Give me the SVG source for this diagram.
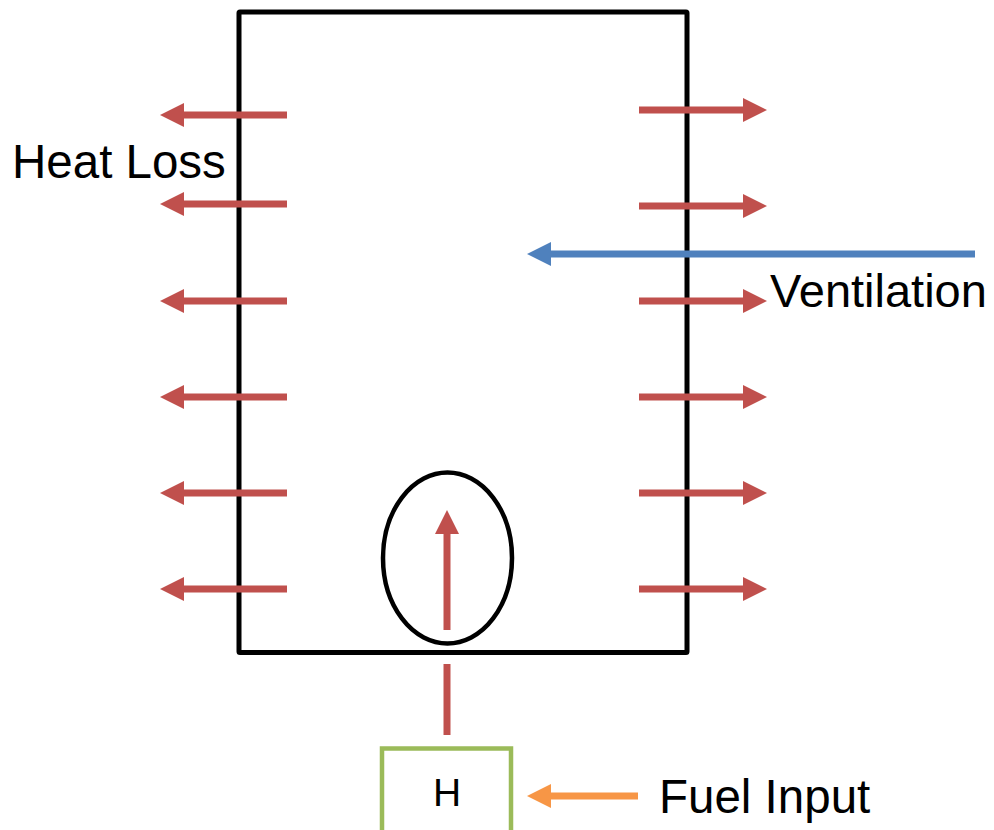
<svg xmlns="http://www.w3.org/2000/svg" width="994" height="830" viewBox="0 0 994 830">
<style>
.loss{stroke:#C0504D;stroke-width:7;fill:none}
.txt{font-family:"Liberation Sans",Arial,sans-serif;fill:#000}
</style>
<defs>
<marker id="hr" markerUnits="userSpaceOnUse" markerWidth="24" markerHeight="24" viewBox="0 0 24 24" refX="0" refY="12" orient="auto" overflow="visible"><path d="M0,0 L24,12 L0,24 Z" fill="#C0504D"/></marker>
<marker id="hb" markerUnits="userSpaceOnUse" markerWidth="24" markerHeight="24" viewBox="0 0 24 24" refX="0" refY="12" orient="auto" overflow="visible"><path d="M0,0 L24,12 L0,24 Z" fill="#4F81BD"/></marker>
<marker id="ho" markerUnits="userSpaceOnUse" markerWidth="24" markerHeight="24" viewBox="0 0 24 24" refX="0" refY="12" orient="auto" overflow="visible"><path d="M0,0 L24,12 L0,24 Z" fill="#F79646"/></marker>
</defs>
<rect id="room" x="239" y="12" width="448" height="640.5" fill="none" stroke="#000" stroke-width="5" rx="1"/>
<g id="connectors">
<line class="loss" x1="287" y1="115" x2="184" y2="115" marker-end="url(#hr)"/>
<line class="loss" x1="287" y1="204" x2="184" y2="204" marker-end="url(#hr)"/>
<line class="loss" x1="287" y1="301" x2="184" y2="301" marker-end="url(#hr)"/>
<line class="loss" x1="287" y1="397" x2="184" y2="397" marker-end="url(#hr)"/>
<line class="loss" x1="287" y1="493" x2="184" y2="493" marker-end="url(#hr)"/>
<line class="loss" x1="287" y1="589" x2="184" y2="589" marker-end="url(#hr)"/>
<line class="loss" x1="639" y1="110" x2="743" y2="110" marker-end="url(#hr)"/>
<line class="loss" x1="639" y1="206" x2="743" y2="206" marker-end="url(#hr)"/>
<line class="loss" x1="639" y1="301" x2="743" y2="301" marker-end="url(#hr)"/>
<line class="loss" x1="639" y1="397" x2="743" y2="397" marker-end="url(#hr)"/>
<line class="loss" x1="639" y1="493" x2="743" y2="493" marker-end="url(#hr)"/>
<line class="loss" x1="639" y1="589" x2="743" y2="589" marker-end="url(#hr)"/>
<line x1="975" y1="254" x2="551" y2="254" stroke="#4F81BD" stroke-width="7" marker-end="url(#hb)"/>
<line x1="638" y1="796" x2="551" y2="796" stroke="#F79646" stroke-width="7" marker-end="url(#ho)"/>
<line class="loss" x1="447" y1="630" x2="447" y2="534" marker-end="url(#hr)"/>
<line class="loss" x1="447" y1="664" x2="447" y2="735"/>
</g>
<g id="flame"><ellipse cx="447.5" cy="558" rx="64.5" ry="85.5" fill="none" stroke="#000" stroke-width="4.5"/></g>
<g id="heater">
<rect x="382" y="748.5" width="129" height="84" fill="#fff" stroke="#9BBB59" stroke-width="4.5"/>
<text class="txt" x="447" y="806" font-size="39" text-anchor="middle">H</text>
</g>
<g id="labels">
<text class="txt" x="12" y="178" font-size="47.5">Heat Loss</text>
<text class="txt" x="770" y="307" font-size="47">Ventilation</text>
<text class="txt" x="659" y="813" font-size="47.5">Fuel Input</text>
</g>
</svg>
